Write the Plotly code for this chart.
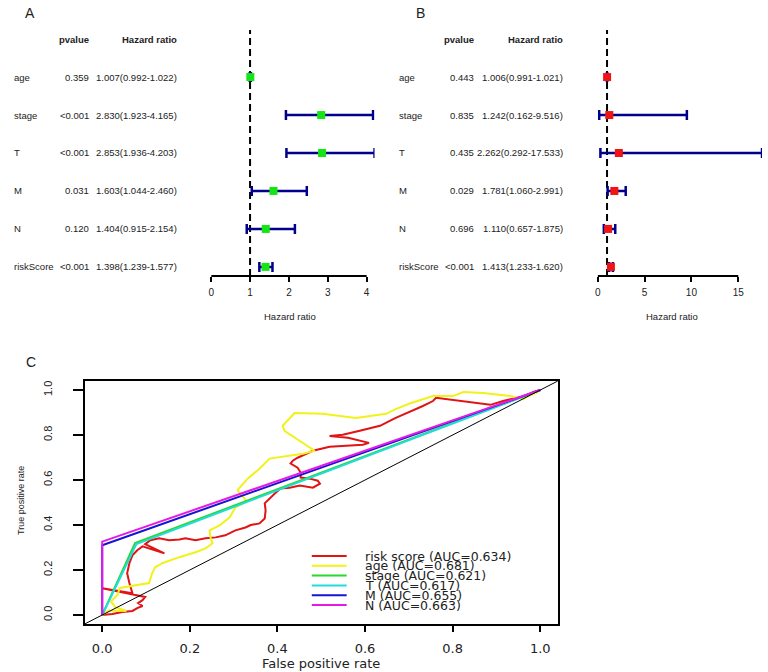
import plotly.graph_objects as go

W, H = 768, 672

variables = ["age", "stage", "T", "M", "N", "riskScore"]

# panel A: univariate cox
pval_a = ["0.359", "<0.001", "<0.001", "0.031", "0.120", "<0.001"]
hr_a = [1.007, 2.830, 2.853, 1.603, 1.404, 1.398]
low_a = [0.992, 1.923, 1.936, 1.044, 0.915, 1.239]
high_a = [1.022, 4.165, 4.203, 2.460, 2.154, 1.577]
ticks_a = [0, 1, 2, 3, 4]

# panel B: multivariate cox
pval_b = ["0.443", "0.835", "0.435", "0.029", "0.696", "<0.001"]
hr_b = [1.006, 1.242, 2.262, 1.781, 1.110, 1.413]
low_b = [0.991, 0.162, 0.292, 1.060, 0.657, 1.233]
high_b = [1.021, 9.516, 17.533, 2.991, 1.875, 1.620]
ticks_b = [0, 5, 10, 15]

# panel C: ROC curves
roc_names = ["risk score", "age", "stage", "T", "M", "N"]
roc_auc = [0.634, 0.681, 0.621, 0.617, 0.655, 0.663]
roc_colors = ["#E01414", "#F2F21A", "#2CD62C", "#22DCDC", "#1414D2", "#E61AE6"]

risk_fpr = [0.000, 0.023, 0.046, 0.069, 0.080, 0.092, 0.082, 0.092, 0.098, 0.000,
            0.069, 0.062, 0.057, 0.062, 0.069, 0.080, 0.092, 0.142, 0.098, 0.110,
            0.130, 0.153, 0.176, 0.190, 0.213, 0.236, 0.259, 0.281, 0.304, 0.327,
            0.339, 0.359, 0.371, 0.373, 0.371, 0.384, 0.394, 0.407, 0.428, 0.451,
            0.481, 0.497, 0.492, 0.474, 0.453, 0.453, 0.446, 0.430, 0.435, 0.446,
            0.465, 0.481, 0.519, 0.595, 0.609, 0.561, 0.519, 0.549, 0.588, 0.634,
            0.670, 0.686, 0.709, 0.732, 0.755, 0.762, 0.886, 0.915, 0.945, 0.968,
            0.984, 1.000]
risk_tpr = [0.000, 0.004, 0.013, 0.018, 0.031, 0.040, 0.053, 0.066, 0.080, 0.119,
            0.097, 0.142, 0.186, 0.230, 0.265, 0.288, 0.305, 0.274, 0.315, 0.332,
            0.341, 0.332, 0.336, 0.341, 0.332, 0.341, 0.345, 0.354, 0.376, 0.389,
            0.400, 0.407, 0.429, 0.465, 0.496, 0.522, 0.540, 0.562, 0.566, 0.575,
            0.566, 0.584, 0.597, 0.606, 0.611, 0.633, 0.655, 0.673, 0.686, 0.699,
            0.717, 0.730, 0.748, 0.757, 0.765, 0.788, 0.796, 0.801, 0.819, 0.841,
            0.876, 0.889, 0.907, 0.929, 0.951, 0.965, 0.934, 0.951, 0.965, 0.973,
            0.991, 1.000]

age_fpr = [0.000, 0.015, 0.055, 0.030, 0.020, 0.035, 0.040, 0.076, 0.107, 0.114,
           0.121, 0.137, 0.176, 0.213, 0.236, 0.252, 0.247, 0.245, 0.268, 0.291,
           0.304, 0.330, 0.309, 0.332, 0.359, 0.382, 0.428, 0.458, 0.485, 0.416,
           0.412, 0.439, 0.503, 0.579, 0.648, 0.670, 0.702, 0.732, 0.755, 0.801,
           0.824, 0.870, 0.931, 0.961, 0.973, 0.991, 1.000]
age_tpr = [0.000, 0.020, 0.018, 0.035, 0.060, 0.090, 0.120, 0.133, 0.142, 0.186,
           0.212, 0.230, 0.257, 0.279, 0.296, 0.319, 0.345, 0.376, 0.398, 0.434,
           0.478, 0.505, 0.555, 0.606, 0.650, 0.695, 0.708, 0.717, 0.730, 0.819,
           0.841, 0.898, 0.894, 0.876, 0.894, 0.915, 0.940, 0.960, 0.973, 0.973,
           0.991, 0.987, 0.973, 0.960, 0.973, 0.987, 1.000]

stage_fpr = [0.0, 0.075, 1.0]
stage_tpr = [0.0, 0.320, 1.0]
t_fpr = [0.0, 0.078, 1.0]
t_tpr = [0.0, 0.315, 1.0]
m_fpr = [0.0, 0.0, 1.0]
m_tpr = [0.0, 0.310, 1.0]
n_fpr = [0.0, 0.0, 1.0]
n_tpr = [0.0, 0.326, 1.0]

roc_x = [risk_fpr, age_fpr, stage_fpr, t_fpr, m_fpr, n_fpr]
roc_y = [risk_tpr, age_tpr, stage_tpr, t_tpr, m_tpr, n_tpr]

NARROW = "Liberation Sans, Arial"
WIDE = "DejaVu Sans, Verdana, Arial"
TXT = 9.5


def px(x):
    return x / W


def py(y):
    return 1 - y / H


n = len(variables)
rows = list(range(n, 0, -1))
pad = 0.04 * n
yrange = [1 - pad, n + 1 + pad]

fig = go.Figure()
annotations = []
shapes = []


def forest(xa, ya, hr, low, high, color):
    fig.add_trace(go.Scatter(
        x=hr, y=rows, mode="markers", xaxis=xa, yaxis=ya, showlegend=False,
        cliponaxis=False,
        marker=dict(symbol="square", size=8, color=color),
        error_x=dict(type="data", symmetric=False,
                     array=[h - r for h, r in zip(high, hr)],
                     arrayminus=[r - l for r, l in zip(hr, low)],
                     color="#00008B", thickness=2.5, width=5)))
    shapes.append(dict(type="line", xref=xa, yref=ya + " domain", x0=1, x1=1,
                       y0=0, y1=1, layer="below",
                       line=dict(color="black", width=2, dash="7px,4px")))


def text_table(yref, left, pvals, hr, low, high):
    cols = [left + 9, left + 88, left + 177]
    for head, xx in [("pvalue", cols[1]), ("Hazard ratio", cols[2])]:
        annotations.append(dict(x=px(xx), y=n + 1, xref="paper", yref=yref, text=f"<b>{head}</b>",
                                xanchor="right", showarrow=False,
                                font=dict(family=NARROW, size=TXT, color="#222")))
    for i, v in enumerate(variables):
        hr_txt = f"{hr[i]:.3f}({low[i]:.3f}-{high[i]:.3f})"
        for txt, xx, anc in [(v, cols[0], "left"), (pvals[i], cols[1], "right"), (hr_txt, cols[2], "right")]:
            annotations.append(dict(x=px(xx), y=rows[i], xref="paper", yref=yref, text=txt,
                                    xanchor=anc, showarrow=False,
                                    font=dict(family=NARROW, size=TXT, color="#222")))


forest("x", "y", hr_a, low_a, high_a, "#14E614")
text_table("y", 0, pval_a, hr_a, low_a, high_a)
forest("x2", "y2", hr_b, low_b, high_b, "#F01414")
text_table("y2", 387, pval_b, hr_b, low_b, high_b)

for xref, ticks in [("x", ticks_a), ("x2", ticks_b)]:
    shapes.append(dict(type="line", xref=xref, yref="paper", x0=ticks[0], x1=ticks[-1],
                       y0=py(276), y1=py(276), line=dict(color="black", width=2)))

# ROC curves
for name, auc, col, xs, ys in zip(roc_names, roc_auc, roc_colors, roc_x, roc_y):
    fig.add_trace(go.Scatter(x=xs, y=ys, mode="lines", xaxis="x3", yaxis="y3",
                             line=dict(color=col, width=2), showlegend=False,
                             name=f"{name} (AUC={auc:.3f})"))

roc_range = [-0.04, 1.04]
fig.add_trace(go.Scatter(x=roc_range, y=roc_range, mode="lines", xaxis="x3", yaxis="y3",
                         line=dict(color="black", width=1), showlegend=False))

# manual legend (tight rows like the R legend)
for i, (name, auc, col) in enumerate(zip(roc_names, roc_auc, roc_colors)):
    yy = py(556 + 9.8 * i)
    shapes.append(dict(type="line", xref="paper", yref="paper", x0=px(310), x1=px(345),
                       y0=yy, y1=yy, line=dict(color=col, width=2)))
    annotations.append(dict(x=px(361), y=yy, xref="paper", yref="paper",
                            text=f"{name} (AUC={auc:.3f})", xanchor="left", yanchor="middle",
                            showarrow=False, font=dict(family=WIDE, size=12.5, color="#222")))

# titles and panel letters
for txt, x, y, fam, size, ang in [
    ("Hazard ratio", 288, 316, NARROW, TXT, 0),
    ("Hazard ratio", 672, 316, NARROW, TXT, 0),
    ("False positive rate", 319, 663, WIDE, 13, 0),
    ("True positive rate", 18, 500, NARROW, 9, -90),
    ("A", 27, 13, "Liberation Sans, Arial", 14, 0),
    ("B", 419, 13, "Liberation Sans, Arial", 14, 0),
    ("C", 28, 362, "Liberation Sans, Arial", 14, 0),
]:
    annotations.append(dict(x=px(x), y=py(y), xref="paper", yref="paper", text=txt,
                            textangle=ang, showarrow=False, xanchor="center", yanchor="middle",
                            font=dict(family=fam, size=size, color="#222")))

forest_x = dict(showgrid=False, zeroline=False, showline=False, ticks="outside",
                ticklen=5, tickwidth=1.5, tickcolor="black",
                tickfont=dict(family=NARROW, size=10, color="#222"), ticklabelstandoff=2)
forest_y = dict(range=yrange, visible=False, domain=[py(276), py(30)])

fig.update_layout(
    width=W, height=H, margin=dict(l=0, r=0, t=0, b=0),
    paper_bgcolor="white", plot_bgcolor="white",
    xaxis=dict(forest_x, domain=[px(209), px(373)], range=[0, max(high_a)],
               tickvals=ticks_a, anchor="y"),
    yaxis=dict(forest_y, anchor="x"),
    xaxis2=dict(forest_x, domain=[px(597), px(762)], range=[0, max(high_b)],
                tickvals=ticks_b, anchor="y2"),
    yaxis2=dict(forest_y, anchor="x2"),
    xaxis3=dict(domain=[px(82), px(557)], range=roc_range, anchor="y3",
                tickvals=[0, 0.2, 0.4, 0.6, 0.8, 1.0], tickformat=".1f",
                showgrid=False, zeroline=False, showline=True, mirror=True,
                linecolor="black", linewidth=2, ticks="outside", ticklen=6,
                tickwidth=1.5, tickcolor="black", ticklabelstandoff=5,
                tickfont=dict(family=WIDE, size=13, color="#222")),
    yaxis3=dict(domain=[py(624), py(381)], range=roc_range, anchor="x3",
                tickvals=[0, 0.2, 0.4, 0.6, 0.8, 1.0], tickformat=".1f",
                showgrid=False, zeroline=False, showline=True, mirror=True,
                linecolor="black", linewidth=2, ticks="outside", ticklen=10,
                tickwidth=1.5, tickcolor="black", tickangle=-90, ticklabelstandoff=16,
                tickfont=dict(family=NARROW, size=11, color="#222")),
    annotations=annotations, shapes=shapes,
)

# drop the page's default body margin so the figure sits at the window's corner
fig.write_html("out.html", config={"displayModeBar": False},
               post_script="document.body.style.margin='0px';")
